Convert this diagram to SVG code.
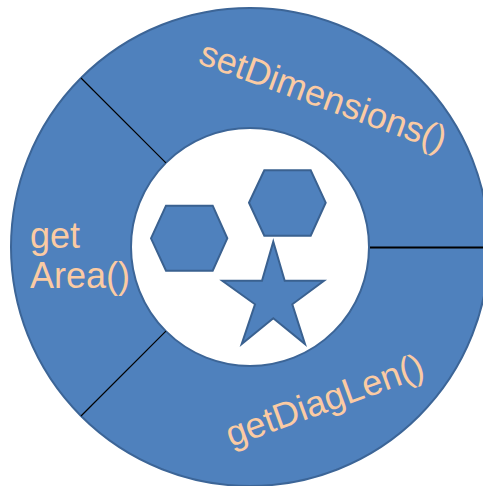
<svg xmlns="http://www.w3.org/2000/svg" width="483" height="486" viewBox="0 0 483 486">
<style>
.seg{fill:#4f81bd;stroke:none}
.ring{fill:none;stroke:#3c6597;stroke-width:2}
.shape{fill:#4f81bd;stroke:#3a6190;stroke-width:2;stroke-linejoin:miter}
.lbl{font-family:"Liberation Sans",Arial,sans-serif;font-size:36px;fill:#fbcba3}
.div{stroke:#000;fill:none}
</style>
<rect width="483" height="486" fill="#fff"/>
<g id="setDimensions">
<path class="seg" d="M81 78 A239 239 0 0 1 489 247 L369 247 A119 119 0 0 0 165.9 162.9 Z"/>
<text class="lbl" transform="translate(197 63) rotate(20)">setDimensions()</text>
</g>
<g id="getDiagLen">
<path class="seg" d="M489 247 A239 239 0 0 1 81 416 L165.9 331.1 A119 119 0 0 0 369 247 Z"/>
<text class="lbl" transform="translate(231 447) rotate(-20)">getDiagLen()</text>
</g>
<g id="getArea">
<path class="seg" d="M81 416 A239 239 0 0 1 81 78 L165.9 162.9 A119 119 0 0 0 165.9 331.1 Z"/>
<text class="lbl" x="30" y="248">get</text>
<text class="lbl" x="30" y="288">Area()</text>
</g>
<g id="ring-outline">
<circle class="ring" cx="250" cy="247" r="239"/>
<circle class="ring" cx="250" cy="247" r="119" fill="#fff"/>
</g>
<g id="connectors">
<line class="div" x1="81" y1="78" x2="165.9" y2="162.9" stroke-width="1.2"/>
<line class="div" x1="81" y1="416" x2="165.9" y2="331.1" stroke-width="1.2"/>
<line class="div" x1="370" y1="247.5" x2="483" y2="247.5" stroke-width="2"/>
</g>
<g id="hexagon-left">
<polygon class="shape" points="151,238.3 166,205.7 212.7,205.7 227.3,238.3 212.7,270.7 166,270.7"/>
</g>
<g id="hexagon-right">
<polygon class="shape" points="249,202.7 264.3,170.3 310.7,170.3 325.7,202.7 310.7,235.7 264.3,235.7"/>
</g>
<g id="star">
<polygon class="shape" points="273.3,241.7 284.7,280.7 324,280.7 292.3,304.3 305,344 273.3,318.3 241.7,344 255,304.3 222.3,280.7 262,280.7"/>
</g>
</svg>
